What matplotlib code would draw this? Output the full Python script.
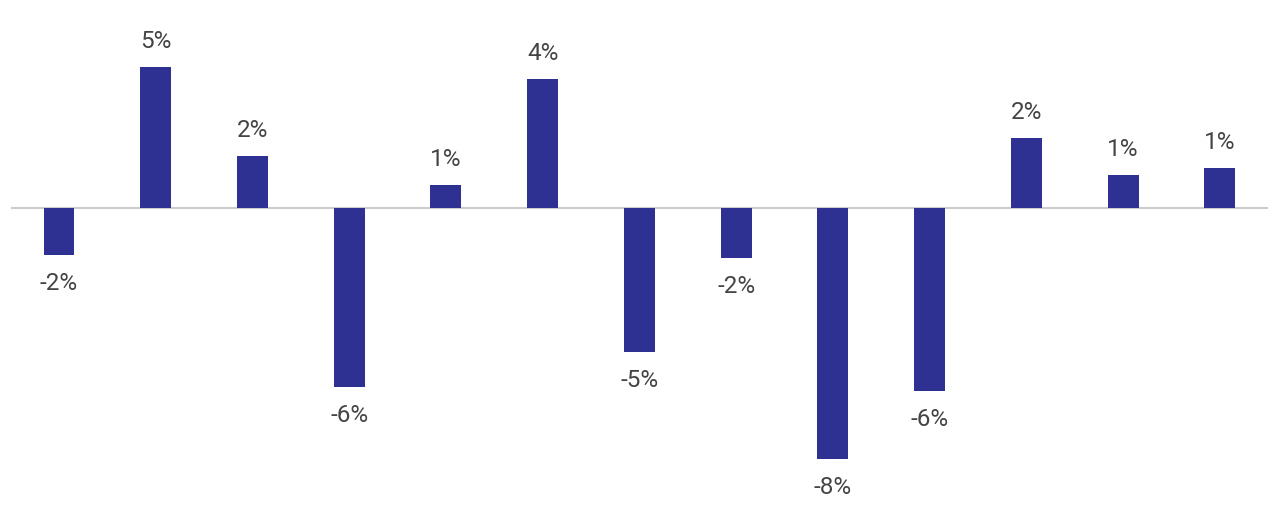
import matplotlib
matplotlib.use("Agg")
import matplotlib.pyplot as plt

values = [-1.57, 4.7, 1.73, -5.97, 0.77, 4.3, -4.8, -1.67, -8.37, -6.1, 2.33, 1.1, 1.33]
labels = ["-2%", "5%", "2%", "-6%", "1%", "4%", "-5%", "-2%", "-8%", "-6%", "2%", "1%", "1%"]

plt.rcParams["font.family"] = ["Roboto", "DejaVu Sans"]

fig = plt.figure(figsize=(12.8, 5.07), dpi=100)
ax = fig.add_axes([0.0083, 0, 0.9825, 1])
x = list(range(len(values)))
ax.bar(x, values, width=0.32, color="#2E3192", zorder=2)
ax.axhline(0, color="#CCCCCC", lw=1.5, zorder=1)
for xi, v, lab in zip(x, values, labels):
    off = 10 if v >= 0 else -12.5
    ax.annotate(lab, (xi, v), xytext=(0, off), textcoords="offset points",
                ha="center", va="bottom" if v >= 0 else "top",
                fontsize=17.5, color="#444444")
ax.set_xlim(-0.5, len(values) - 0.5)
ax.set_ylim(-9.97, 6.93)
ax.axis("off")
fig.savefig("out.png", dpi=100, facecolor="white")
